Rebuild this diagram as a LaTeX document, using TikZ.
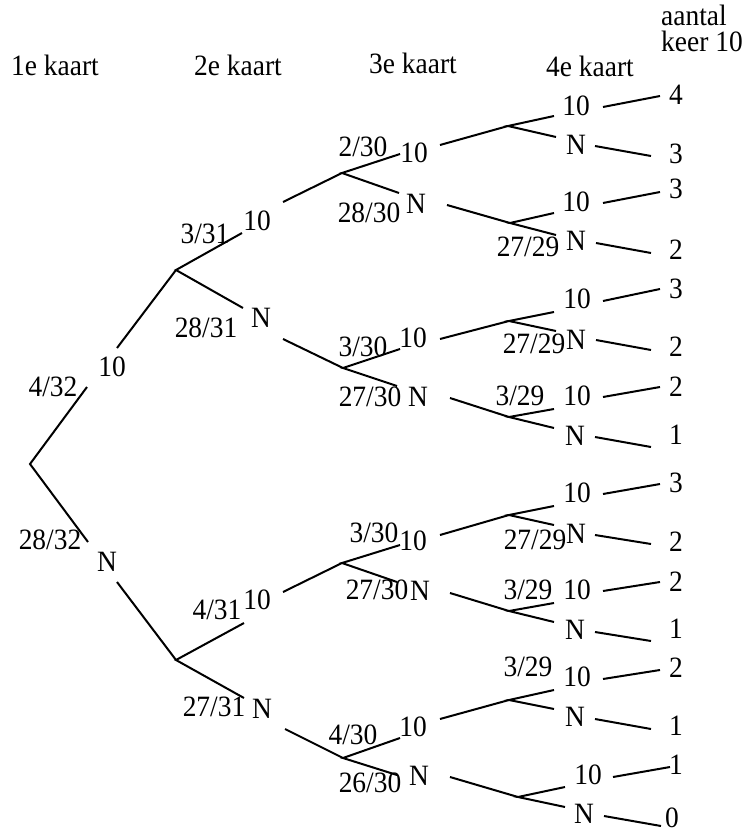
\documentclass[tikz,border=0pt]{standalone}
\usepackage{fontspec}
\setmainfont[FakeStretch=0.93]{Liberation Serif}
\begin{document}
\begin{tikzpicture}[x=1pt,y=-1pt,
  lbl/.style={inner sep=0pt,font=\fontsize{29.5}{31}\selectfont},
  edge/.style={line width=2pt}]
\useasboundingbox (0,0) rectangle (746,832);
% headers
\node[lbl] (h1) at (55,65) {1e kaart};
\node[lbl] (h2) at (238,65) {2e kaart};
\node[lbl] (h3) at (413,63) {3e kaart};
\node[lbl] (h4) at (590,66) {4e kaart};
\node[lbl,anchor=base west] (h5a) at (661,26) {aantal};
\node[lbl,anchor=base west] (h5b) at (661,52) {keer 10};
% level 1
\node[lbl] (a1) at (112,367) {10};
\node[lbl] (pa1) at (53,387) {4/32};
\node[lbl] (a2) at (107,562) {N};
\node[lbl] (pa2) at (50,540) {28/32};
% level 2
\node[lbl] (b1) at (257,221) {10};
\node[lbl] (pb1) at (205,234) {3/31};
\node[lbl] (b2) at (261,318) {N};
\node[lbl] (pb2) at (206,328) {28/31};
\node[lbl] (b3) at (257,600) {10};
\node[lbl] (pb3) at (217,610) {4/31};
\node[lbl] (b4) at (262,709) {N};
\node[lbl] (pb4) at (214,707) {27/31};
% level 3
\node[lbl] (c1) at (414,153) {10};
\node[lbl] (pc1) at (363,147) {2/30};
\node[lbl] (c2) at (416,204) {N};
\node[lbl] (pc2) at (369,213) {28/30};
\node[lbl] (c3) at (413,338) {10};
\node[lbl] (pc3) at (363,347) {3/30};
\node[lbl] (c4) at (418,397) {N};
\node[lbl] (pc4) at (370,397) {27/30};
\node[lbl] (c5) at (413,541) {10};
\node[lbl] (pc5) at (374,533) {3/30};
\node[lbl] (c6) at (420,591) {N};
\node[lbl] (pc6) at (377,590) {27/30};
\node[lbl] (c7) at (413,727) {10};
\node[lbl] (pc7) at (353,735) {4/30};
\node[lbl] (c8) at (419,776) {N};
\node[lbl] (pc8) at (370,783) {26/30};
% level 4
\node[lbl] (d1) at (576,106) {10};
\node[lbl] (d2) at (576,145) {N};
\node[lbl] (d3) at (576,202) {10};
\node[lbl] (d4) at (576,241) {N};
\node[lbl] (pd4) at (528,247) {27/29};
\node[lbl] (d5) at (577,299) {10};
\node[lbl] (d6) at (576,340) {N};
\node[lbl] (pd6) at (534,344) {27/29};
\node[lbl] (d7) at (577,396) {10};
\node[lbl] (pd7) at (520,396) {3/29};
\node[lbl] (d8) at (575,436) {N};
\node[lbl] (d9) at (577,493) {10};
\node[lbl] (d10) at (576,534) {N};
\node[lbl] (pd10) at (535,540) {27/29};
\node[lbl] (d11) at (577,590) {10};
\node[lbl] (pd11) at (528,590) {3/29};
\node[lbl] (d12) at (575,630) {N};
\node[lbl] (d13) at (577,677) {10};
\node[lbl] (pd13) at (528,667) {3/29};
\node[lbl] (d14) at (575,717) {N};
\node[lbl] (d15) at (588,775) {10};
\node[lbl] (d16) at (584,814) {N};
% leaves
\node[lbl] (e1) at (676,95) {4};
\node[lbl] (e2) at (676,154) {3};
\node[lbl] (e3) at (676,189) {3};
\node[lbl] (e4) at (676,250) {2};
\node[lbl] (e5) at (676,289) {3};
\node[lbl] (e6) at (676,347) {2};
\node[lbl] (e7) at (676,387) {2};
\node[lbl] (e8) at (676,435) {1};
\node[lbl] (e9) at (676,483) {3};
\node[lbl] (e10) at (676,542) {2};
\node[lbl] (e11) at (676,582) {2};
\node[lbl] (e12) at (676,629) {1};
\node[lbl] (e13) at (676,668) {2};
\node[lbl] (e14) at (676,726) {1};
\node[lbl] (e15) at (676,765) {1};
\node[lbl] (e16) at (672,818) {0};
% forks
\coordinate (R) at (30,464);
\coordinate (F2a) at (176,270);
\coordinate (F2b) at (176,660);
\coordinate (F3a) at (342,173);
\coordinate (F3b) at (343,368);
\coordinate (F3c) at (342,563);
\coordinate (F3d) at (343,758);
\coordinate (F4a) at (508,126);
\coordinate (F4b) at (510,223);
\coordinate (F4c) at (509,321);
\coordinate (F4d) at (509,417);
\coordinate (F4e) at (509,515);
\coordinate (F4f) at (509,611);
\coordinate (F4g) at (509,700);
\coordinate (F4h) at (518,797);
% level 1 edges
\draw[edge] (87,387) -- (R) -- (88,542);
\draw[edge] (117,348) -- (F2a);
\draw[edge] (117,582) -- (F2b);
% level 2 edges
\draw[edge] (242,233) -- (F2a) -- (243,308);
\draw[edge] (244,623) -- (F2b) -- (244,698);
\draw[edge] (283,202) -- (F3a);
\draw[edge] (283,339) -- (F3b);
\draw[edge] (283,592) -- (F3c);
\draw[edge] (285,729) -- (F3d);
% level 3 edges
\draw[edge] (400,154) -- (F3a) -- (399,193);
\draw[edge] (400,349) -- (F3b) -- (397,386);
\draw[edge] (400,545) -- (F3c) -- (397,582);
\draw[edge] (400,738) -- (F3d) -- (397,775);
\draw[edge] (440,145) -- (F4a);
\draw[edge] (447,205) -- (F4b);
\draw[edge] (440,339) -- (F4c);
\draw[edge] (450,398) -- (F4d);
\draw[edge] (440,535) -- (F4e);
\draw[edge] (450,593) -- (F4f);
\draw[edge] (440,719) -- (F4g);
\draw[edge] (450,777) -- (F4h);
% level 4 edges
\draw[edge] (554,116) -- (F4a) -- (556,137);
\draw[edge] (554,213) -- (F4b) -- (556,235);
\draw[edge] (554,312) -- (F4c) -- (556,331);
\draw[edge] (554,409) -- (F4d) -- (554,428);
\draw[edge] (554,506) -- (F4e) -- (554,525);
\draw[edge] (554,603) -- (F4f) -- (554,622);
\draw[edge] (554,690) -- (F4g) -- (554,709);
\draw[edge] (565,787) -- (F4h) -- (565,807);
% leaf edges
\draw[edge] (603,107) -- (660,96);
\draw[edge] (595,146) -- (651,156);
\draw[edge] (603,203) -- (660,192);
\draw[edge] (596,243) -- (651,253);
\draw[edge] (603,301) -- (660,289);
\draw[edge] (596,340) -- (651,350);
\draw[edge] (603,397) -- (660,387);
\draw[edge] (595,437) -- (651,447);
\draw[edge] (603,494) -- (660,484);
\draw[edge] (595,535) -- (651,544);
\draw[edge] (603,591) -- (660,582);
\draw[edge] (595,632) -- (651,641);
\draw[edge] (603,679) -- (660,670);
\draw[edge] (595,719) -- (651,729);
\draw[edge] (613,777) -- (670,767);
\draw[edge] (604,816) -- (661,826);
\end{tikzpicture}
\end{document}
